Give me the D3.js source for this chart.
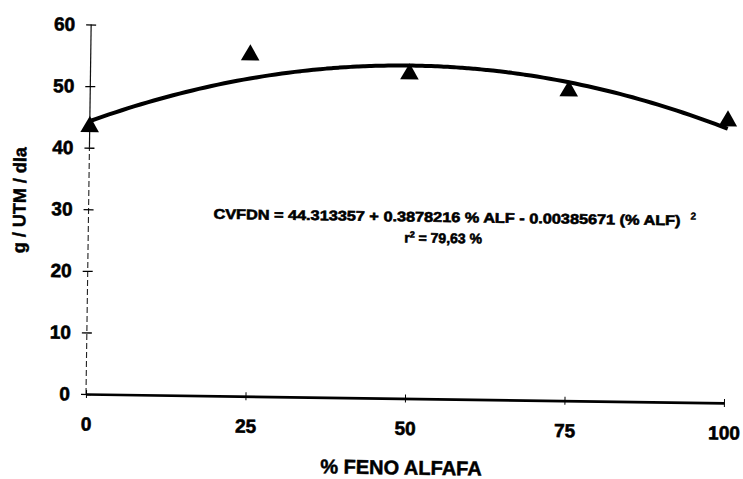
<!DOCTYPE html>
<html>
<head>
<meta charset="utf-8">
<script src="https://cdn.jsdelivr.net/npm/d3@7"></script>
<style>
  html, body { margin: 0; padding: 0; background: #fff; }
  svg { display: block; }
  text { font-family: "Liberation Sans", Arial, sans-serif; font-weight: bold; fill: #000; }
</style>
</head>
<body>
<svg id="chart" width="743" height="479"></svg>
<script>
// Alfalfa hay level in the diet (%) and observed intake (g / UTM / día)
const alfalfaPct = [0, 25, 50, 75, 100];
const intake = [43.4, 55.4, 52.7, 50.3, 45.8];

// Quadratic fit: CVFDN = a + b*ALF + c*ALF^2
const fitCoef = [44.313357, 0.3878216, -0.00385671];

const xTicks = [0, 25, 50, 75, 100];
const yTicks = [0, 10, 20, 30, 40, 50, 60];

const xTitle = "% FENO ALFAFA";
const yTitle = "g / UTM / dla";
const eqText = "CVFDN = 44.313357 + 0.3878216 % ALF - 0.00385671 (% ALF)";
const r2Text = " = 79,63 %";

const svg = d3.select("#chart");
svg.append("rect").attr("width", 743).attr("height", 479).attr("fill", "#fff");

// plot frame, slightly tilted like the printed page
const g = svg.append("g").attr("transform", "translate(86,394) rotate(0.8)");

const x = d3.scaleLinear().domain([0, 100]).range([0, 638]);
const y = d3.scaleLinear().domain([0, 60]).range([0, -369.5]);

const heavy = sel => sel
  .style("font-family", "'Liberation Sans', Arial, sans-serif")
  .style("font-weight", "bold")
  .attr("fill", "#000")
  .attr("stroke", "#000")
  .attr("stroke-width", 0.6);

// y axis: faint line, broken in its lower part
g.append("line")
  .attr("x1", 0).attr("x2", 0).attr("y1", y(40)).attr("y2", y(60))
  .attr("stroke", "#111").attr("stroke-width", 1.2);
g.append("line")
  .attr("x1", 0).attr("x2", 0).attr("y1", y(0)).attr("y2", y(40))
  .attr("stroke", "#222").attr("stroke-width", 1.1)
  .attr("stroke-dasharray", "6,3");

const yAxis = g.append("g").call(
  d3.axisLeft(y).tickValues(yTicks).tickSizeInner(5).tickSizeOuter(0).tickPadding(11)
);
yAxis.select(".domain").remove();
yAxis.selectAll(".tick line").attr("x1", 5).attr("stroke", "#000").attr("stroke-width", 1.3);
yAxis.selectAll(".tick text").call(heavy).style("font-size", "19px");

// x axis
const xAxis = g.append("g").call(
  d3.axisBottom(x).tickValues(xTicks).tickSizeInner(4).tickSizeOuter(0).tickPadding(19)
);
xAxis.select(".domain").attr("stroke", "#000").attr("stroke-width", 2.6);
xAxis.selectAll(".tick line").attr("y1", -4).attr("stroke", "#000").attr("stroke-width", 1);
xAxis.selectAll(".tick text").call(heavy).style("font-size", "19px");

// fitted curve
const fit = v => fitCoef[0] + fitCoef[1] * v + fitCoef[2] * v * v;
const curveX = d3.range(0, 100.5, 1);
g.append("path")
  .datum(curveX)
  .attr("fill", "none")
  .attr("stroke", "#000")
  .attr("stroke-width", 4)
  .attr("stroke-linejoin", "round")
  .attr("d", d3.line().x(d => x(d)).y(d => y(fit(d))).curve(d3.curveBasis));

// observed points
g.selectAll("path.pt")
  .data(alfalfaPct.map((a, i) => [a, intake[i]]))
  .join("path")
  .attr("class", "pt")
  .attr("transform", d => `translate(${x(d[0])},${y(d[1])})`)
  .attr("d", d3.symbol(d3.symbolTriangle, 150))
  .attr("fill", "#000");

// regression equation
g.append("text")
  .attr("x", 125).attr("y", -177)
  .attr("textLength", 467).attr("lengthAdjust", "spacingAndGlyphs")
  .style("font-size", "14px")
  .attr("stroke", "#000").attr("stroke-width", 0.6)
  .text(eqText);
g.append("text")
  .attr("x", 602).attr("y", -183)
  .style("font-size", "10px")
  .attr("stroke", "#000").attr("stroke-width", 0.4)
  .text("2");

const r2 = g.append("text")
  .attr("x", 316).attr("y", -156)
  .style("font-size", "14px")
  .attr("stroke", "#000").attr("stroke-width", 0.6);
r2.append("tspan").text("r");
r2.append("tspan").attr("dy", -5).style("font-size", "9px").text("2");
r2.append("tspan").attr("dy", 5).text(r2Text);

// axis titles
g.append("text")
  .attr("x", 316).attr("y", 76)
  .attr("text-anchor", "middle")
  .style("font-size", "20px")
  .attr("stroke", "#000").attr("stroke-width", 0.5)
  .text(xTitle);

g.append("text")
  .attr("transform", "translate(-63,-193) rotate(-90)")
  .attr("text-anchor", "middle")
  .style("font-size", "18px")
  .attr("stroke", "#000").attr("stroke-width", 0.5)
  .text(yTitle);
</script>
</body>
</html>
